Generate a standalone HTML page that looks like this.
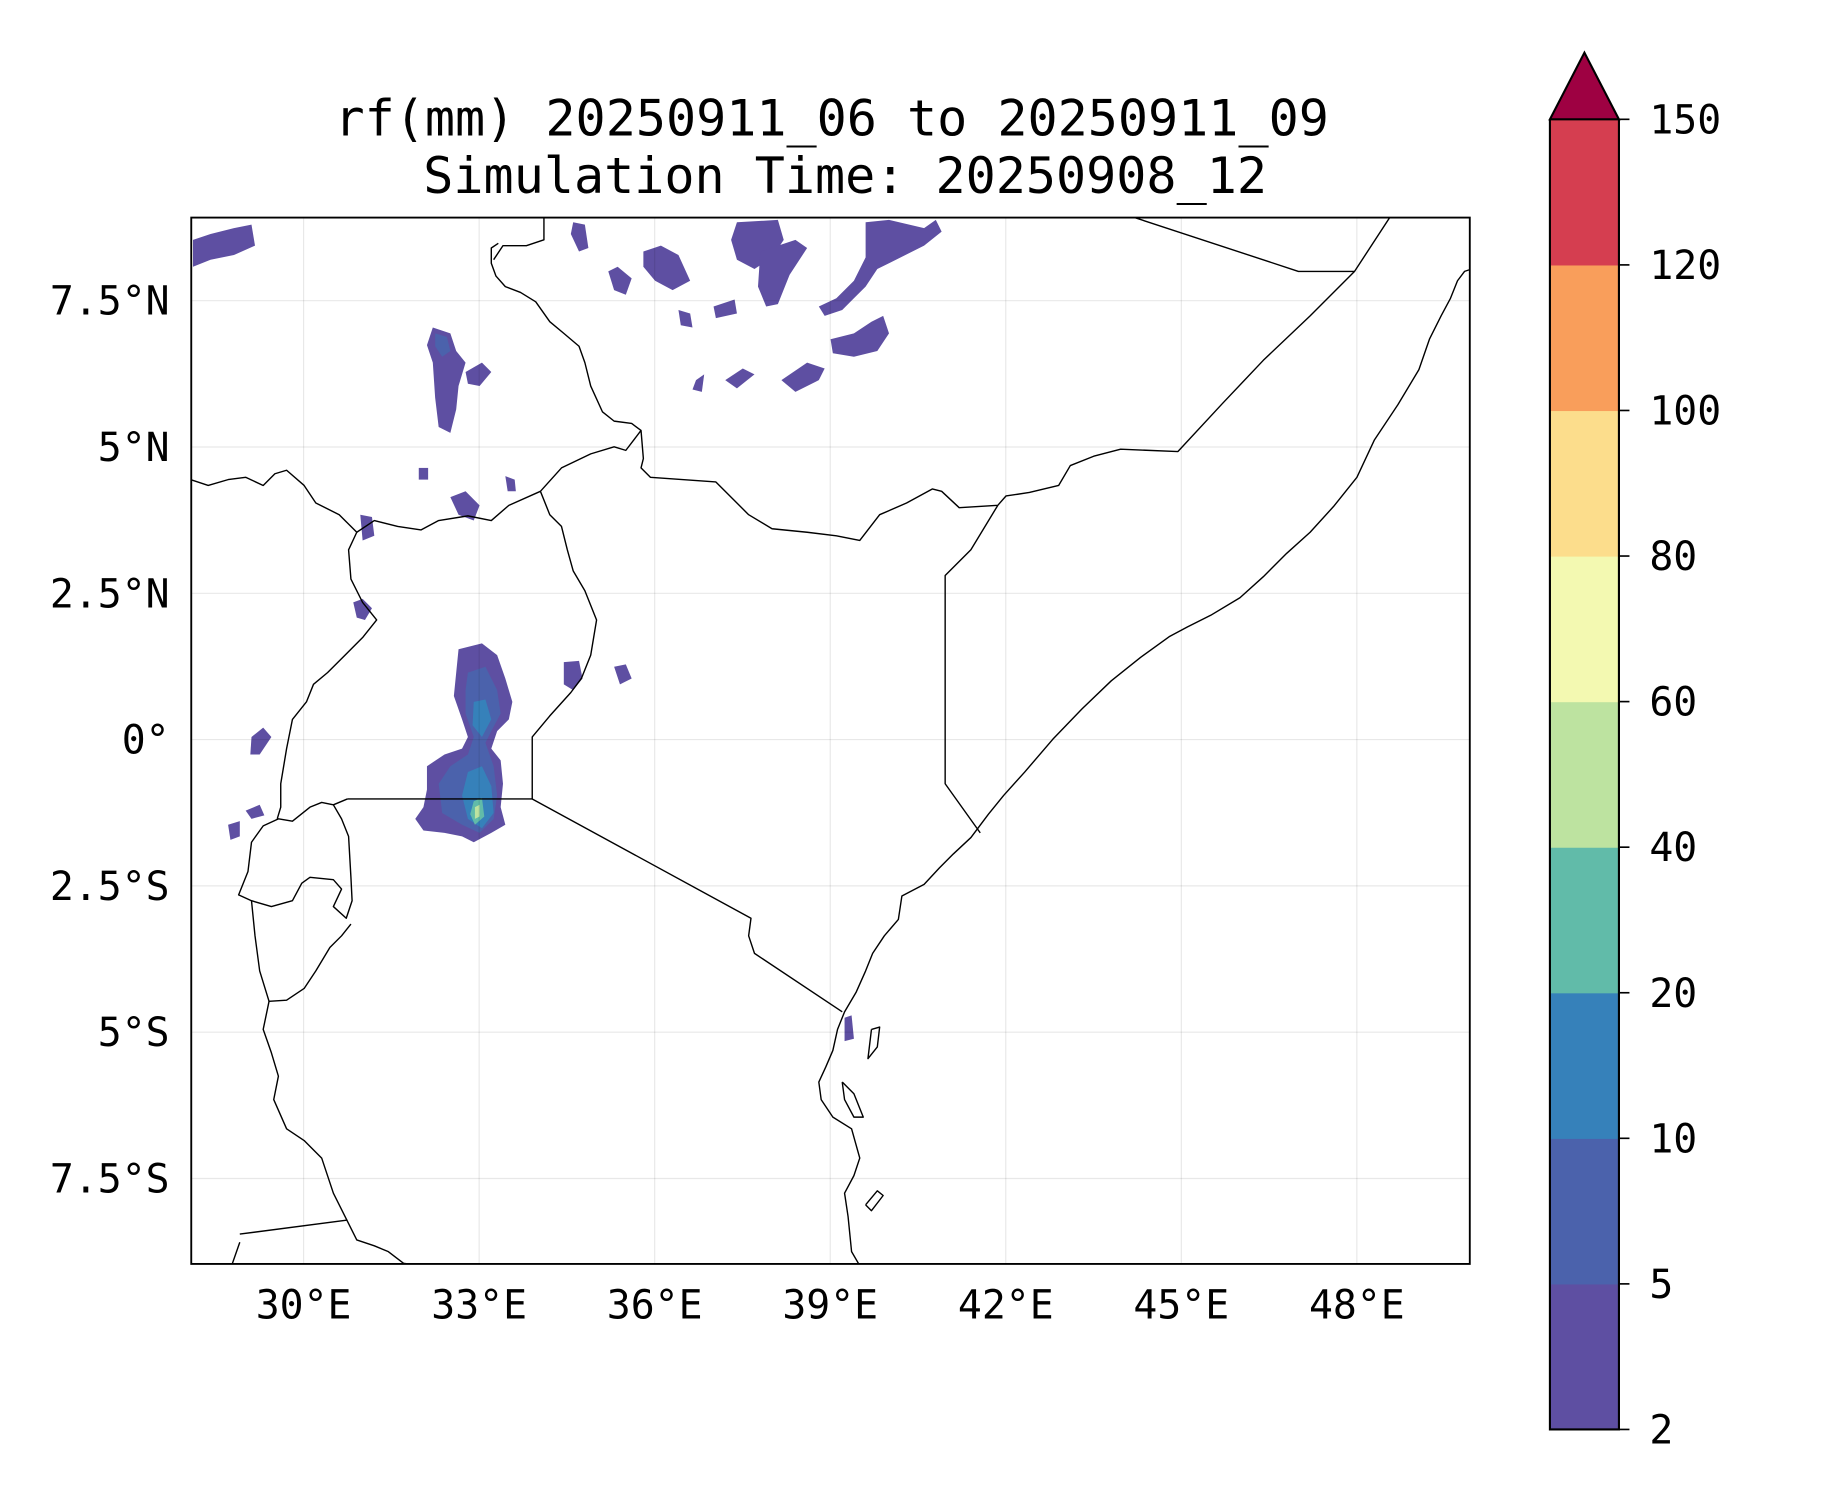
<!DOCTYPE html>
<html><head><meta charset="utf-8"><style>
html,body{margin:0;padding:0;background:#fff}
svg{display:block}
text{font-family:"DejaVu Sans Mono","Liberation Mono",monospace;fill:#000}
</style></head><body>
<svg id="fig" width="1833" height="1500" viewBox="0 0 1567 1282.3" xmlns="http://www.w3.org/2000/svg">
<rect x="0" y="0" width="1567" height="1282.3" fill="#fff"/>
<text x="711" y="116" font-size="42.8" text-anchor="middle">rf(mm) 20250911_06 to 20250911_09</text>
<text x="722.5" y="165" font-size="42.8" text-anchor="middle">Simulation Time: 20250908_12</text>
<defs><clipPath id="mapclip"><rect x="163.5" y="186" width="1093" height="894.5"/></clipPath></defs>
<g id="map" clip-path="url(#mapclip)">
<g id="rain"></g>
<g id="grid"></g>
<g id="borders" fill="none" stroke="#000" stroke-width="1.2" stroke-linejoin="round"></g>
</g>
<rect x="163.5" y="186" width="1093" height="894.5" fill="none" stroke="#000" stroke-width="1.6"/>
<g id="ticks"></g>
<g id="cbar"></g>
</svg>
<script>
const NS='http://www.w3.org/2000/svg';
// map extent
const lonMin=28.08, lonMax=49.93, latMin=-8.96, latMax=8.92;
const lonTicks=[30,33,36,39,42,45,48];
const lonLabels=['30°E','33°E','36°E','39°E','42°E','45°E','48°E'];
const latTicks=[7.5,5,2.5,0,-2.5,-5,-7.5];
const latLabels=['7.5°N','5°N','2.5°N','0°','2.5°S','5°S','7.5°S'];
// colorbar
const levels=[2,5,10,20,40,60,80,100,120,150];
const levelColors=['#5e4fa2','#4b62ac','#3681ba','#61bba9','#bde3a0','#f3f9b1','#fcdd8c','#f99e5b','#d53e50'];
const overColor='#9e0142';

const X0=163.5,X1=1256.5,Y0=186,Y1=1080.5;
function sx(lon){return X0+(lon-lonMin)/(lonMax-lonMin)*(X1-X0);}
function sy(lat){return Y0+(latMax-lat)/(latMax-latMin)*(Y1-Y0);}
function mk(tag,attrs,parent){const e=document.createElementNS(NS,tag);for(const k in attrs)e.setAttribute(k,attrs[k]);parent.appendChild(e);return e;}

const grid=document.getElementById('grid'),ticks=document.getElementById('ticks');
lonTicks.forEach((v,i)=>{
  const x=sx(v);
  const g=mk('line',{x1:x,x2:x,y1:Y0,y2:Y1,stroke:'#000','stroke-opacity':0.09,'stroke-width':1},grid);
  
  
  const t=mk('text',{x:x,y:1127,'font-size':34,'text-anchor':'middle'},ticks);
  t.textContent=lonLabels[i];
  
  
});
latTicks.forEach((v,i)=>{
  const y=sy(v);
  const g=mk('line',{x1:X0,x2:X1,y1:y,y2:y,stroke:'#000','stroke-opacity':0.09,'stroke-width':1},grid);
  
  
  const t=mk('text',{x:145,y:y+12,'font-size':34,'text-anchor':'end'},ticks);
  t.textContent=latLabels[i];
  
  
});

const lines=[
 [[735,1082],[728,1070],[725,1040],[722,1020],[730,1005],[735,990],[728,965],[712,955],[702,940],[700,925],[706,912],[712,898],[716,880],[722,865],[732,848],[740,830],[746,815],[756,800],[768,786],[771,766],[790,756],[803,742],[815,730],[830,716],[845,696],[858,680],[876,660],[900,632],[925,606],[950,582],[975,562],[1000,544],[1015,536],[1035,526],[1060,511],[1080,493],[1100,473],[1120,455],[1140,433],[1160,408],[1175,376],[1195,346],[1213,316],[1222,290],[1232,270],[1240,255],[1246,240],[1252,232],[1258,230]],
 [[970,186],[1110,232],[1158,232]],
 [[1188,186],[1158,232],[1120,270],[1080,308],[1045,345],[1007,386],[958,384],[935,390],[915,398],[905,415],[880,421],[860,424],[853,432],[820,434],[805,420],[797,418],[775,430],[752,440],[735,462],[715,458],[690,455],[660,452],[640,440],[612,412],[556,408],[548,400],[550,392],[548,368],[540,362],[525,360],[515,352],[505,330],[500,310],[495,296],[482,285],[470,275],[458,258],[445,250],[432,245],[424,236],[420,225],[420,212],[426,208]],
 [[465,186],[465,205],[450,210],[430,210],[422,222]],
 [[853,432],[830,470],[808,492],[808,670],[838,712]],
 [[720,865],[645,815],[640,800],[642,785],[455,683],[297,683]],
 [[455,683],[455,630],[470,612],[488,592],[497,580],[505,560],[510,530],[500,505],[490,488],[485,470],[480,450],[470,440],[462,420],[480,400],[505,388],[525,382],[535,385],[548,368]],
 [[462,420],[435,432],[420,445],[400,441],[375,445],[360,453],[340,450],[320,445],[305,455]],
 [[305,455],[290,440],[270,430],[260,415],[245,402],[235,405],[225,415],[210,408],[195,410],[178,415],[163,410]],
 [[305,455],[298,470],[300,495],[310,515],[322,530],[310,545],[295,560],[280,575],[268,585],[262,600],[250,615],[245,640],[240,670],[240,690],[237,700]],
 [[297,683],[285,688],[275,686],[265,690],[250,702],[238,700],[225,706],[215,720],[212,745],[204,765],[215,770],[232,775],[250,770],[258,755],[265,750],[285,752],[292,760],[285,775],[296,785],[301,770],[300,750],[298,715],[292,700],[285,688]],
 [[215,770],[218,800],[222,830],[230,856],[245,855],[260,845],[270,830],[282,810],[292,800],[300,790]],
 [[230,856],[225,880],[232,900],[238,920],[234,940],[245,965],[260,975],[275,990],[285,1020],[295,1040],[305,1060],[320,1065],[332,1070],[345,1080],[360,1082]],
 [[205,1055],[297,1043]],
 [[205,1062],[198,1082]],
 [[720,925],[730,935],[738,955],[730,955],[722,940],[720,925]],
 [[745,880],[752,878],[750,895],[742,905],[745,880]],
 [[740,1030],[750,1018],[755,1022],[745,1035],[740,1030]]
];
const borders=document.getElementById('borders');
lines.forEach(l=>{
  const p=mk('polyline',{points:l.map(q=>q.join(',')).join(' ')},borders);
  
  
});

const rainPatches=[
 [0,[[392,555],[412,550],[425,560],[432,580],[438,600],[435,615],[425,625],[420,640],[428,650],[430,670],[428,690],[432,705],[420,712],[405,720],[395,715],[380,712],[362,710],[355,700],[362,690],[365,675],[365,655],[380,645],[395,640],[400,630],[395,615],[388,595],[390,575]]],
 [1,[[400,575],[415,570],[425,590],[428,610],[420,625],[415,635],[422,655],[425,680],[422,700],[410,712],[395,705],[378,695],[375,670],[385,655],[400,645],[405,630],[398,610],[398,590]]],
 [2,[[405,600],[415,598],[420,615],[412,630],[404,620]]],
 [2,[[400,660],[412,655],[420,672],[422,695],[412,708],[400,700],[395,680]]],
 [3,[[405,685],[412,682],[414,698],[406,705],[402,696]]],
 [4,[[406,690],[410,688],[410,698],[406,700]]],
 [0,[[370,280],[385,285],[390,300],[398,310],[392,330],[390,350],[385,370],[375,365],[372,340],[370,310],[365,295]]],
 [1,[[372,285],[382,288],[385,300],[378,305],[372,296]]],
 [0,[[398,318],[412,310],[420,318],[410,330],[400,328]]],
 [0,[[385,425],[398,420],[410,432],[405,445],[392,440]]],
 [0,[[482,566],[495,565],[498,580],[490,590],[482,585]]],
 [0,[[525,570],[535,568],[540,580],[530,585]]],
 [0,[[165,205],[180,200],[200,195],[215,192],[218,210],[200,218],[180,222],[165,228]]],
 [0,[[490,190],[500,192],[503,212],[495,215],[488,200]]],
 [0,[[550,215],[565,210],[580,218],[590,240],[575,248],[560,240],[550,228]]],
 [0,[[630,190],[665,188],[670,205],[660,220],[645,230],[630,222],[625,205]]],
 [0,[[650,215],[680,205],[690,212],[675,235],[665,260],[655,262],[648,245]]],
 [0,[[740,190],[760,188],[790,195],[800,188],[805,198],[790,210],[770,220],[750,230],[740,245],[730,255],[720,265],[705,270],[700,262],[715,255],[730,240],[740,220]]],
 [0,[[710,290],[730,285],[745,275],[755,270],[760,285],[750,300],[730,305],[712,302]]],
 [0,[[668,325],[690,310],[705,315],[700,325],[680,335]]],
 [0,[[620,325],[635,315],[645,320],[630,332]]],
 [0,[[595,325],[602,320],[600,335],[592,333]]],
 [0,[[520,232],[528,228],[540,238],[535,252],[525,248]]],
 [0,[[580,265],[590,268],[592,280],[582,278]]],
 [0,[[610,262],[628,256],[630,268],[612,272]]],
 [0,[[215,630],[225,622],[232,630],[222,645],[214,645]]],
 [0,[[195,705],[205,702],[205,715],[197,718]]],
 [0,[[210,693],[222,688],[226,697],[215,700]]],
 [0,[[302,515],[310,512],[318,520],[312,530],[305,528]]],
 [0,[[308,440],[318,442],[320,458],[310,462]]],
 [0,[[432,407],[440,410],[441,420],[434,420]]],
 [0,[[358,400],[366,400],[366,410],[358,410]]],
 [0,[[722,870],[728,868],[730,888],[722,890]]]
];
const rain=document.getElementById('rain');
rainPatches.forEach(r=>{
  const p=mk('polygon',{points:r[1].map(q=>q.join(',')).join(' '),fill:levelColors[r[0]]},rain);
  
  
});

const cb=document.getElementById('cbar');
const CBL=1325,CBR=1384,CBT=102,CBB=1222;
const step=(CBB-CBT)/(levels.length-1);
function cy(i){return CBB-i*step;}
levelColors.forEach((c,i)=>{
  const r=mk('rect',{x:CBL,y:cy(i+1),width:CBR-CBL,height:step+0.5,fill:c},cb);
  
  
});
const tri=mk('polygon',{points:`${CBL},${CBT} ${(CBL+CBR)/2},45 ${CBR},${CBT}`,fill:overColor,stroke:'#000','stroke-width':1.8,'stroke-linejoin':'miter'},cb);


const fr=mk('polyline',{points:`${CBL},${CBT} ${CBL},${CBB} ${CBR},${CBB} ${CBR},${CBT}`,fill:'none',stroke:'#000','stroke-width':1.8},cb);


levels.forEach((v,i)=>{
  const y=cy(i);
  const tk=mk('line',{x1:CBR,x2:CBR+9,y1:y,y2:y,stroke:'#000','stroke-width':1.4},cb);
  
  
  const t=mk('text',{x:1410,y:y+12,'font-size':34},cb);
  t.textContent=String(v);
  
  
});
</script>
</body></html>
